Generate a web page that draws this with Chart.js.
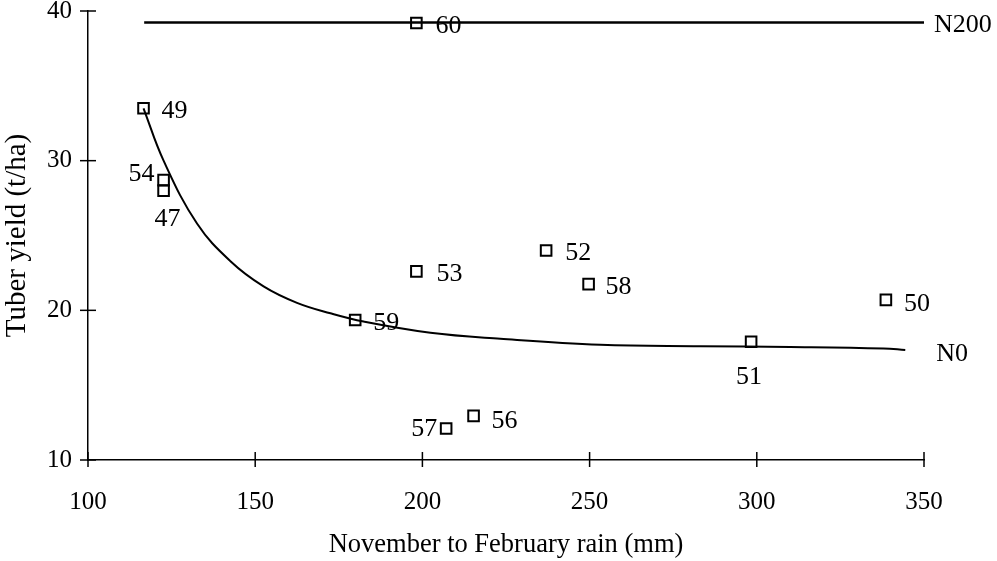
<!DOCTYPE html>
<html>
<head>
<meta charset="utf-8">
<script src="https://cdn.jsdelivr.net/npm/chart.js@4"></script>
<style>
  html, body { margin: 0; padding: 0; background: #fff; }
  #wrap { width: 997px; height: 561px; }
</style>
</head>
<body>
<div id="wrap"><canvas id="rainChart" width="997" height="561"></canvas></div>
<script>
// Years (site labels) with rain and yield readings
const yearLabels = ["60", "49", "54", "47", "59", "53", "52", "58", "57", "56", "50", "51"];
const rainValues = [198.2, 116.6, 122.6, 122.6, 179.9, 198.2, 237.0, 249.7, 207.1, 215.3, 338.6, 298.3];
const yieldValues = [39.2, 33.5, 28.7, 28.0, 19.35, 22.6, 24.0, 21.75, 12.1, 12.95, 20.7, 17.9];

// N0 fitted curve
const n0Rain = [116.6, 122.6, 132.6, 142.6, 152.5, 162.5, 172.5, 182.4, 202.4, 223.3, 253.2, 283.1, 310, 337.9, 344.4];
const n0Yield = [33.5, 30.0, 25.8, 23.28, 21.6, 20.5, 19.8, 19.25, 18.5, 18.1, 17.7, 17.6, 17.55, 17.45, 17.35];

// N200 line
const n200Rain = [116.8, 350];
const n200Yield = [39.23, 39.23];

const xTicks = [100, 150, 200, 250, 300, 350];
const yTicks = [10, 20, 30, 40];

const FONT = "'Liberation Serif', 'Times New Roman', serif";

// where each label sits relative to its square [dx, dy, align]
const labelOffsets = {
  "60": [19, 3, "left"],
  "49": [18, 3, "left"],
  "54": [-9, -6, "right"],
  "47": [4, 29, "center"],
  "59": [18, 3, "left"],
  "53": [20, 3, "left"],
  "52": [19, 3, "left"],
  "58": [17, 3, "left"],
  "57": [-9, 1, "right"],
  "56": [18, 5, "left"],
  "50": [18, 4, "left"],
  "51": [-2, 35, "center"]
};

const toXY = (xs, ys) => xs.map((x, i) => ({ x, y: ys[i] }));

// draws tick marks that cross the axis lines
const crossTicks = {
  id: "crossTicks",
  afterDraw(chart) {
    const { ctx, scales: { x, y } } = chart;
    ctx.save();
    ctx.strokeStyle = "#000";
    ctx.lineWidth = 1.5;
    xTicks.forEach(v => {
      const px = x.getPixelForValue(v);
      ctx.beginPath();
      ctx.moveTo(px, y.bottom - 8);
      ctx.lineTo(px, y.bottom + 7);
      ctx.stroke();
    });
    yTicks.forEach(v => {
      const py = y.getPixelForValue(v);
      ctx.beginPath();
      ctx.moveTo(x.left - 8, py);
      ctx.lineTo(x.left + 8, py);
      ctx.stroke();
    });
    ctx.restore();
  }
};

// point labels and the N0 / N200 line names
const pointText = {
  id: "pointText",
  afterDatasetsDraw(chart) {
    const { ctx, scales: { x, y } } = chart;
    ctx.save();
    ctx.fillStyle = "#000";
    ctx.font = "26px " + FONT;
    ctx.textBaseline = "middle";

    yearLabels.forEach((lab, i) => {
      const off = labelOffsets[lab];
      ctx.textAlign = off[2];
      ctx.fillText(lab, x.getPixelForValue(rainValues[i]) + off[0], y.getPixelForValue(yieldValues[i]) + off[1]);
    });

    ctx.textAlign = "left";
    const lastN200 = n200Rain.length - 1;
    ctx.fillText("N200", x.getPixelForValue(n200Rain[lastN200]) + 10, y.getPixelForValue(n200Yield[lastN200]) + 3);
    const lastN0 = n0Rain.length - 1;
    ctx.fillText("N0", x.getPixelForValue(n0Rain[lastN0]) + 31, y.getPixelForValue(n0Yield[lastN0]) + 4);
    ctx.restore();
  }
};

const ctx = document.getElementById("rainChart").getContext("2d");

new Chart(ctx, {
  type: "scatter",
  data: {
    datasets: [
      {
        label: "N200",
        data: toXY(n200Rain, n200Yield),
        showLine: true,
        borderColor: "#000",
        borderWidth: 2.5,
        pointRadius: 0,
        clip: false
      },
      {
        label: "N0",
        data: toXY(n0Rain, n0Yield),
        showLine: true,
        tension: 0.4,
        borderColor: "#000",
        borderWidth: 2,
        pointRadius: 0,
        clip: false
      },
      {
        label: "Years",
        data: toXY(rainValues, yieldValues),
        pointStyle: "rect",
        pointRadius: 7.5,
        pointBorderWidth: 2,
        borderColor: "#000",
        pointBorderColor: "#000",
        backgroundColor: "rgba(0,0,0,0)",
        pointBackgroundColor: "rgba(0,0,0,0)",
        clip: false
      }
    ]
  },
  options: {
    responsive: false,
    animation: false,
    layout: { padding: { top: 11, right: 73, left: 0, bottom: 0 } },
    plugins: {
      legend: { display: false },
      tooltip: { enabled: false }
    },
    scales: {
      x: {
        type: "linear",
        min: 100,
        max: 350,
        afterFit(s) { s.height = 101; s.paddingLeft = 0; s.paddingRight = 0; },
        afterBuildTicks(s) { s.ticks = xTicks.map(v => ({ value: v })); },
        grid: { display: false, tickLength: 0 },
        border: { display: true, color: "#000", width: 1.5 },
        ticks: {
          color: "#000",
          font: { family: FONT, size: 25 },
          padding: 27,
          maxRotation: 0
        },
        title: {
          display: true,
          text: "November to February rain (mm)",
          color: "#000",
          font: { family: FONT, size: 26.5 },
          padding: 0
        }
      },
      y: {
        type: "linear",
        min: 10,
        max: 40,
        afterFit(s) { s.width = 88; s.paddingTop = 0; s.paddingBottom = 0; },
        afterBuildTicks(s) { s.ticks = yTicks.map(v => ({ value: v })); },
        grid: { display: false, tickLength: 0 },
        border: { display: true, color: "#000", width: 1.5 },
        ticks: {
          color: "#000",
          font: { family: FONT, size: 25 },
          padding: 16
        },
        title: {
          display: true,
          text: "Tuber yield (t/ha)",
          color: "#000",
          font: { family: FONT, size: 29 },
          padding: 0
        }
      }
    }
  },
  plugins: [crossTicks, pointText]
});
</script>
</body>
</html>
